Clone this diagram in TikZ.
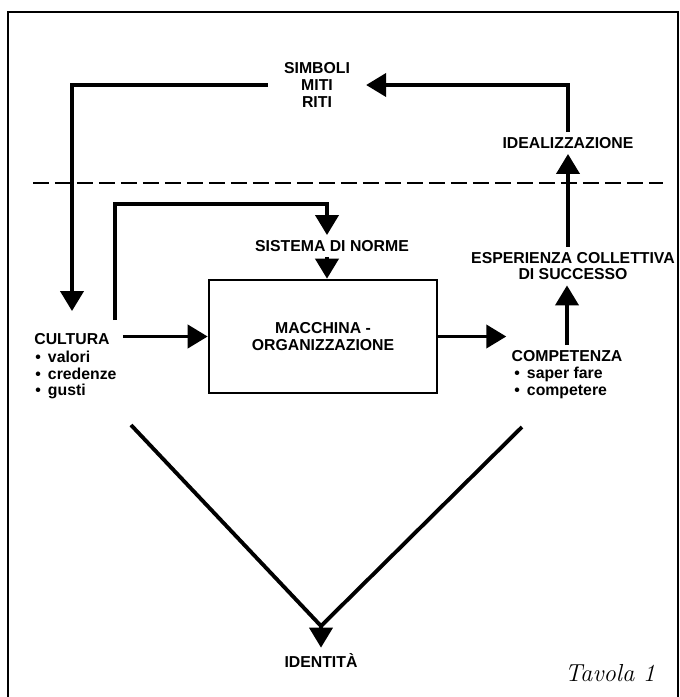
\documentclass[tikz,border=0pt]{standalone}
\usepackage{fontspec}
\usetikzlibrary{arrows.meta,positioning}
\newfontfamily\diagfont{Liberation Sans}
\tikzset{
  txt/.style={
    font=\diagfont\bfseries\fontsize{9}{9.6}\selectfont,
    inner sep=0.1cm,
    align=center
  },
  listtxt/.style={
    font=\diagfont\bfseries\fontsize{9}{9.4}\selectfont,
    inner sep=0,
    anchor=north west,
    align=left
  },
  flow/.style={
    line width=2.2pt,
    -{Triangle[length=0.4cm,width=0.46cm]}
  },
  thickline/.style={
    line width=2.2pt
  },
  machine/.style={
    draw,
    line width=1.5pt,
    minimum width=4.56cm,
    minimum height=2.26cm
  }
}
\begin{document}
\begin{tikzpicture}[x=0.02cm,y=-0.02cm]
  \useasboundingbox (0,0) rectangle (680,697);
  \draw[line width=1.1pt] (8,697) -- (8,12) -- (678,12) -- (678,697);
  \draw[line width=1.3pt, dash pattern=on 0.32cm off 0.12cm] (33,183) -- (663,183);

  \node[txt, inner xsep=9pt] (simboli) at (317,85) {SIMBOLI\\MITI\\RITI};
  \node[txt] (ideal) at (568,143) {IDEALIZZAZIONE};
  \node[txt] (esper) at (573,266) {ESPERIENZA COLLETTIVA\\DI SUCCESSO};
  \node[txt] (sistema) at (332,246) {SISTEMA DI NORME};
  \node[machine, txt] (macchina) at (323,336.5) {MACCHINA -\\ORGANIZZAZIONE};
  \node[txt] (cultura) at (72,339) {CULTURA};
  \node[listtxt] (cultlist) at (35,351) {\textbullet\hspace{0.45em}valori\\\textbullet\hspace{0.45em}credenze\\\textbullet\hspace{0.45em}gusti};
  \node[txt] (compet) at (567,356) {COMPETENZA};
  \node[listtxt] (complist) at (514,367) {\textbullet\hspace{0.45em}saper fare\\\textbullet\hspace{0.45em}competere};
  \node[txt] (ident) at (321,660) {IDENTITÀ};
  \node[font=\fontsize{14}{16}\selectfont\itshape] (tavola) at (610,673) {Tavola 1};

  \coordinate (loopfoot) at (115,320);
  \coordinate (loopcorner) at (327,204);
  \coordinate (vleft) at (131,425);
  \coordinate (vright) at (522,427);
  \coordinate (vjoin) at (321,626);

  \draw[flow] (ideal.north) |- (simboli.east);
  \draw[flow, shorten >=0.34cm] (simboli.west) -| (cultura.north);
  \draw[flow] (loopfoot) |- (loopcorner) -- (loopcorner |- sistema.north);
  \draw[flow] (sistema.south -| loopcorner) -- (macchina.north -| loopcorner);
  \draw[flow, shorten <=0.16cm] (cultura.east |- macchina.west) -- (macchina.west);
  \draw[flow] (macchina.east) -- (macchina.east -| compet.west);
  \draw[flow] (compet.north) -- (compet.north |- esper.south);
  \draw[flow] (ideal.south |- esper.north) -- (ideal.south);
  \draw[thickline] (vleft) -- (vjoin) -- (vright);
  \draw[flow] (vjoin) -- (ident.north);
\end{tikzpicture}
\end{document}
